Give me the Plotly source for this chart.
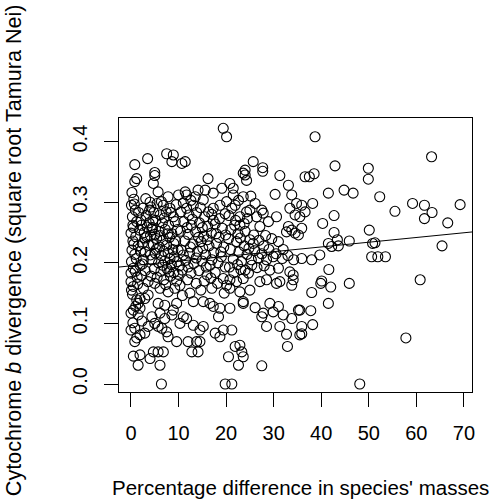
import plotly.graph_objects as go

# ---- data (percentage mass difference, cytochrome b divergence) ----
band_00_03 = [(0.2,0.316),(0.6,0.305),(0.1,0.295),(0.9,0.287),(0.3,0.276),(1.2,0.268),(0.5,0.258),(0.0,0.249),
    (1.0,0.243),(0.4,0.236),(1.5,0.228),(0.2,0.221),(0.8,0.214),(0.1,0.202),(1.9,0.196),(0.5,0.191),(0.0,0.183),
    (1.3,0.176),(0.0,0.169),(0.5,0.161),(0.1,0.155),(1.2,0.139),(1.5,0.133),(1.9,0.141),(1.9,0.125),(0.5,0.122),
    (0.0,0.117),(1.5,0.114),(0.8,0.092),(0.0,0.089),(2.9,0.084),(1.9,0.081),(0.8,0.070),(0.5,0.046),(1.9,0.048),
    (1.5,0.031),(0.8,0.362),(1.2,0.339),(0.8,0.334),(2.5,0.290),(2.2,0.262),(2.8,0.250),(2.4,0.232),(3.0,0.218),
    (2.6,0.205),(2.9,0.141),(3.6,0.147),(3.6,0.169),(3.5,0.372),(3.6,0.095),(4.0,0.042),(4.7,0.053),(3.2,0.278),
    (3.8,0.266),(3.3,0.243),(4.0,0.300),(4.4,0.255)]

band_03_10 = [(5,0.349),(5,0.344),(4.7,0.331),(5.7,0.317),(7.8,0.309),(10,0.312),(7.5,0.380),(8.9,0.378),(8.6,0.367),
    (10.7,0.364),(4.2,0.292),(5.5,0.298),(6.8,0.295),(8.2,0.290),(9.5,0.296),(4.8,0.283),(6.1,0.279),(7.4,0.284),
    (8.9,0.276),(5.2,0.270),(6.6,0.266),(7.9,0.262),(9.3,0.268),(4.5,0.258),(5.9,0.252),(7.2,0.255),(8.6,0.248),
    (9.8,0.255),(4.1,0.245),(5.4,0.240),(6.7,0.237),(8.1,0.242),(9.4,0.236),(4.7,0.230),(6.0,0.226),(7.5,0.229),
    (8.8,0.222),(5.1,0.216),(6.4,0.212),(7.8,0.216),(9.1,0.210),(4.4,0.205),(5.8,0.200),(7.1,0.203),(8.5,0.197),
    (9.7,0.202),(4.9,0.190),(6.3,0.186),(7.6,0.190),(9.0,0.184),(5.5,0.176),(6.9,0.172),(8.3,0.178),(9.6,0.170),
    (5,0.166),(6.1,0.158),(7.8,0.152),(9.2,0.158),(10.3,0.163),(5.7,0.133),(7.1,0.130),(8.9,0.122),(9.6,0.133),
    (6.1,0.117),(4.4,0.111),(7.1,0.108),(8.6,0.114),(5,0.10),(5.7,0.095),(6.5,0.092),(7.5,0.086),(7.8,0.078),
    (9.6,0.070),(5.7,0.053),(6.8,0.053),(6.1,0.031),(6.4,0.0)]

band_10_20 = [(11.4,0.367),(11.4,0.317),(11.7,0.312),(13.5,0.309),(14.1,0.320),(15.6,0.320),(17.3,0.315),(15.2,0.304),
    (16.2,0.339),(19.1,0.323),(19.4,0.422),(20.1,0.408),(18.7,0.295),(17.3,0.290),(13.1,0.295),(11.7,0.290),(20.1,0.301),
    (10.5,0.284),(12.2,0.279),(13.8,0.283),(15.5,0.276),(17.0,0.280),(18.6,0.273),(19.8,0.281),(11.1,0.268),(12.7,0.262),
    (14.4,0.266),(16.1,0.260),(17.7,0.264),(19.2,0.257),(10.4,0.252),(12.0,0.247),(13.6,0.251),(15.3,0.244),(16.9,0.249),
    (18.5,0.242),(19.9,0.246),(11.3,0.236),(13.0,0.231),(14.7,0.235),(16.4,0.228),(18.0,0.232),(19.5,0.226),(10.6,0.221),
    (12.3,0.216),(14.0,0.219),(15.7,0.213),(17.4,0.217),(19.0,0.210),(11.5,0.204),(13.2,0.199),(14.9,0.203),(16.6,0.196),
    (18.3,0.200),(19.8,0.193),(10.8,0.188),(12.6,0.183),(14.3,0.187),(16.0,0.180),(17.7,0.184),(19.4,0.174),(11.9,0.172),
    (13.7,0.166),(15.4,0.170),(17.0,0.158),(16.6,0.133),(15.2,0.136),(13.1,0.136),(18.4,0.111),(18.7,0.125),(17.3,0.128),
    (10.3,0.10),(11.7,0.108),(11,0.111),(17.7,0.084),(19.4,0.089),(15.2,0.095),(14.5,0.089),(13.1,0.097),(18.7,0.078),
    (12,0.070),(13.8,0.070),(14.5,0.070),(12.8,0.053),(14.1,0.053),(19.8,0.0)]

band_20_30 = [(20.8,0.172),(22.2,0.169),(20.1,0.163),(20.8,0.158),(23.6,0.136),(20.8,0.125),(21.2,0.089),(20.5,0.045),
    (22.6,0.031),(21.9,0.062),(21.2,0.0),(21.5,0.323),(21.5,0.312),(20.8,0.331),(21.9,0.295),(21.2,0.290),(23.6,0.348),
    (24,0.353),(24,0.345),(24.3,0.336),(25.7,0.367),(27.7,0.357),(27.7,0.351),(23.6,0.309),(26.1,0.298),(24.3,0.284),
    (25,0.287),(27.5,0.287),(27.8,0.282),(28.9,0.268),(22.9,0.276),(22.9,0.262),(27.1,0.260),(25,0.238),(25.7,0.232),
    (20.6,0.278),(22.0,0.270),(23.8,0.265),(21.0,0.255),(22.5,0.248),(24.0,0.252),(25.8,0.246),(20.5,0.240),(22.2,0.235),
    (23.8,0.228),(20.9,0.222),(22.7,0.218),(24.4,0.214),(26.0,0.220),(27.5,0.215),(29.0,0.222),(21.5,0.206),(23.2,0.202),
    (25.3,0.205),(26.8,0.208),(28.5,0.205),(29.9,0.210),(20.7,0.193),(22.4,0.197),(24,0.188),(24.7,0.183),(23.6,0.174),
    (29.2,0.188),(27.1,0.169),(28.5,0.172),(22.9,0.152),(25,0.155),(23.6,0.133),(26.1,0.126),(27.8,0.117),(27.5,0.111),
    (29.2,0.133),(29.9,0.119),(28.5,0.095),(22.9,0.064),(23.3,0.053),(23.6,0.045),(27.5,0.030),(26.5,0.192),(28.0,0.195)]

band_30_50 = [(31,0.191),(33.4,0.185),(34.1,0.180),(30.6,0.166),(31.3,0.169),(34.1,0.172),(33.8,0.163),(31,0.128),
    (32,0.114),(33.8,0.108),(35.2,0.122),(31.3,0.095),(32.7,0.082),(35.5,0.081),(32.9,0.062),(31.3,0.344),(33.1,0.328),
    (30.3,0.313),(33.8,0.312),(36.6,0.342),(34.8,0.298),(33.4,0.290),(34.5,0.279),(30.6,0.276),(33.1,0.260),(33.8,0.254),
    (34.5,0.249),(32.7,0.251),(35.9,0.257),(35.2,0.246),(31,0.235),(30.5,0.215),(31.8,0.207),(33.0,0.212),(34.2,0.205),
    (32.0,0.222),(38.7,0.408),(42.9,0.360),(49.9,0.356),(49.9,0.338),(37.5,0.342),(38.5,0.347),(41.5,0.315),(44.8,0.320),
    (46.7,0.315),(38.2,0.298),(35.9,0.295),(36.6,0.284),(35.5,0.276),(42.7,0.278),(40.3,0.265),(50.1,0.254),(42.7,0.250),
    (43.4,0.238),(45.9,0.236),(41.5,0.232),(42.2,0.227),(43.6,0.228),(35.9,0.207),(38,0.205),(39.7,0.213),(41.6,0.189),
    (39.9,0.166),(40.1,0.170),(42,0.160),(45.9,0.166),(38,0.151),(41.5,0.133),(35.5,0.122),(37.8,0.121),(38.2,0.098),
    (35.9,0.095),(35.9,0.083),(48.1,0.0)]

band_50_70 = [(50.8,0.232),(50.6,0.21),(63.2,0.375),(52.3,0.309),(55.5,0.285),(59.2,0.298),(61.7,0.295),(63.3,0.283),
    (61.7,0.273),(66.6,0.266),(69.2,0.296),(65.4,0.228),(51.3,0.233),(51.9,0.21),(53.5,0.21),(60.8,0.172),(57.8,0.076)]

dense_core = [(0.7,0.297),(1.6,0.283),(2.1,0.271),(0.4,0.262),(1.8,0.254),(2.9,0.241),(0.6,0.231),(2.0,0.219),
    (1.1,0.207),(2.4,0.198),(0.9,0.186),(2.2,0.179),(1.4,0.165),(2.6,0.158),(0.3,0.148),(1.0,0.128),(2.3,0.104),
    (0.4,0.101),(1.2,0.076),(3.1,0.306),(3.9,0.287),(4.6,0.271),(3.4,0.259),(5.0,0.247),(3.7,0.229),(5.3,0.222),
    (4.1,0.213),(3.0,0.187),(4.2,0.178),(6.4,0.301),(7.0,0.274),(8.4,0.283),(6.2,0.245),(7.7,0.248),(9.0,0.232),
    (6.9,0.219),(8.2,0.207),(9.9,0.221),(6.7,0.196),(8.0,0.185),(10.2,0.195),(7.3,0.164),(9.9,0.181),(11.0,0.299),
    (12.6,0.303),(14.6,0.291),(16.3,0.284),(12.9,0.272),(15.0,0.258),(17.3,0.270),(11.8,0.258),(14.2,0.242),
    (16.0,0.238),(17.9,0.248),(12.5,0.226),(15.1,0.224),(17.0,0.205),(18.9,0.218),(11.0,0.213),(13.7,0.208),
    (15.8,0.193),(12.0,0.193),(16.8,0.175),(18.2,0.166),(14.7,0.155),(12.4,0.150),(10.8,0.146),(19.6,0.150),
    (21.6,0.184),(23.1,0.189),(25.4,0.196),(21.8,0.262),(24.5,0.273),(26.4,0.276),(22.6,0.303),(25.2,0.310),
    (26.9,0.237),(28.3,0.245),(27.9,0.228),(29.6,0.240),(24.8,0.224),(23.0,0.241)]

# regression line coefficients
fit_intercept = 0.195
fit_slope = 0.00078

x_ticks = [0, 10, 20, 30, 40, 50, 60, 70]
y_ticks = [0.0, 0.1, 0.2, 0.3, 0.4]
y_ticklabels = ["0.0", "0.1", "0.2", "0.3", "0.4"]
x_range = [-2.52, 71.7]
y_range = [-0.0132, 0.439]

pts = band_00_03 + band_03_10 + band_10_20 + band_20_30 + band_30_50 + band_50_70 + dense_core
xs = [p[0] for p in pts]
ys = [p[1] for p in pts]

FONT = "Liberation Sans, Arial, sans-serif"

fig = go.Figure()
fig.add_trace(go.Scatter(x=xs, y=ys, mode="markers",
    marker=dict(symbol="circle-open", size=10, color="black", line=dict(width=1.1, color="black"))))
fig.add_trace(go.Scatter(x=x_range, y=[fit_intercept + fit_slope * v for v in x_range], mode="lines",
    line=dict(color="black", width=1)))

axis_common = dict(showgrid=False, zeroline=False, showline=True, mirror=True, linecolor="black", linewidth=1,
                   ticks="outside", ticklen=14, tickwidth=1, tickcolor="black", ticklabelstandoff=9,
                   tickfont=dict(family=FONT, size=20, color="black"))
fig.update_xaxes(range=x_range, tickvals=x_ticks, **axis_common)
fig.update_yaxes(range=y_range, tickvals=y_ticks, ticktext=y_ticklabels, tickangle=-90, **axis_common)

fig.update_layout(width=494, height=503, margin=dict(l=119, r=22, t=118, b=111),
    plot_bgcolor="white", paper_bgcolor="white", showlegend=False,
    font=dict(family=FONT, size=20, color="black"),
    annotations=[
        dict(text="Percentage difference in species' masses", xref="paper", yref="paper", x=0.513, y=-0.347,
             xanchor="center", yanchor="middle", showarrow=False, font=dict(size=20.5)),
        dict(text="Cytochrome <i>b</i> divergence (square root Tamura Nei)", xref="paper", yref="paper",
             x=-0.300, y=0.518, xanchor="center", yanchor="middle", textangle=-90, showarrow=False,
             font=dict(size=21.6)),
    ])

fig.write_html("out.html", config={"displayModeBar": False},
               post_script="document.body.style.margin='0px';document.body.style.overflow='hidden';")
